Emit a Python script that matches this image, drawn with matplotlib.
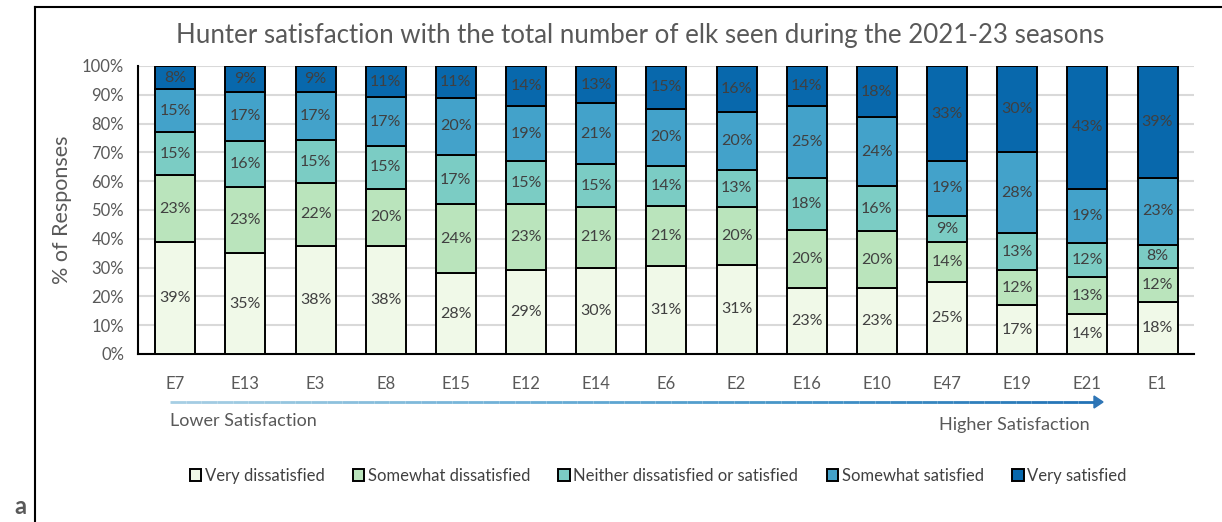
import numpy as np
import matplotlib.pyplot as plt
from matplotlib.collections import LineCollection

units = ["E7", "E13", "E3", "E8", "E15", "E12", "E14", "E6", "E2", "E16", "E10", "E47", "E19", "E21", "E1"]
categories = ["Very dissatisfied", "Somewhat dissatisfied", "Neither dissatisfied or satisfied",
              "Somewhat satisfied", "Very satisfied"]

very_dissatisfied = [39, 35, 38, 38, 28, 29, 30, 31, 31, 23, 23, 25, 17, 14, 18]
somewhat_dissatisfied = [23, 23, 22, 20, 24, 23, 21, 21, 20, 20, 20, 14, 12, 13, 12]
neither = [15, 16, 15, 15, 17, 15, 15, 14, 13, 18, 16, 9, 13, 12, 8]
somewhat_satisfied = [15, 17, 17, 17, 20, 19, 21, 20, 20, 25, 24, 19, 28, 19, 23]
very_satisfied = [8, 9, 9, 11, 11, 14, 13, 15, 16, 14, 18, 33, 30, 43, 39]

colors = ["#f0f9e8", "#bae4bc", "#7bccc4", "#43a2ca", "#0868ac"]

plt.rcParams['font.family'] = ['Lato', 'DejaVu Sans']

fig = plt.figure(figsize=(12.22, 5.22), dpi=100)
ax = fig.add_axes([138 / 1222, 1 - 354 / 522, (1194 - 138) / 1222, (354 - 66) / 522])

data = np.array([very_dissatisfied, somewhat_dissatisfied, neither, somewhat_satisfied, very_satisfied], dtype=float)
pct = data / data.sum(axis=0) * 100
x = np.arange(len(units))
bottom = np.zeros(len(units))
for i, cat in enumerate(categories):
    ax.bar(x, pct[i], 0.57, bottom=bottom, color=colors[i], edgecolor="black",
           linewidth=1.4, label=cat, zorder=3)
    for j in range(len(units)):
        ax.text(x[j], bottom[j] + pct[i][j] / 2, f"{int(data[i][j])}%", ha="center", va="center",
                fontsize=11.5, color="#404040", zorder=4)
    bottom += pct[i]

ax.set_xlim(-0.53, len(units) - 0.48)
ax.set_ylim(0, 100)
ax.set_yticks(np.arange(0, 101, 10))
ax.set_yticklabels([f"{v}%" for v in range(0, 101, 10)], fontsize=12, color="#595959")
ax.set_xticks(x)
ax.set_xticklabels(units, fontsize=12, color="#595959")
ax.tick_params(axis="y", length=0, pad=10)
ax.tick_params(axis="x", length=0, pad=16)
ax.grid(axis="y", color="#d9d9d9", linewidth=1.5, zorder=0)
for s in ["top", "right"]:
    ax.spines[s].set_visible(False)
ax.spines["left"].set_linewidth(1.5)
ax.spines["bottom"].set_linewidth(1.5)
ax.set_ylabel("% of Responses", fontsize=15.5, color="#595959", labelpad=7)

fig.text(640 / 1222, 1 - 35 / 522, "Hunter satisfaction with the total number of elk seen during the 2021-23 seasons",
         ha="center", va="center", fontsize=18.6, color="#595959")

# gradient arrow
xs = np.linspace(170, 1094, 60) / 1222
yy = 1 - 402 / 522
segs = [[(xs[k], yy), (xs[k + 1], yy)] for k in range(len(xs) - 1)]
cmap_cols = [plt.cm.Blues(0.35 + 0.4 * k / len(segs)) for k in range(len(segs))]
fig.add_artist(LineCollection(segs, colors=cmap_cols, linewidths=2, transform=fig.transFigure))
fig.add_artist(plt.Polygon([(1094 / 1222, yy + 6 / 522), (1103 / 1222, yy), (1094 / 1222, yy - 6 / 522)],
                           closed=True, color="#2e75b6", transform=fig.transFigure))
fig.text(170 / 1222, 1 - 421 / 522, "Lower Satisfaction", ha="left", va="center", fontsize=13, color="#595959")
fig.text(1090 / 1222, 1 - 425 / 522, "Higher Satisfaction", ha="right", va="center", fontsize=13, color="#595959")

fig.legend(loc="center", bbox_to_anchor=(658 / 1222, 1 - 476 / 522), ncol=5, frameon=False,
           fontsize=12, handlelength=0.7, handleheight=0.7, handletextpad=0.2, columnspacing=1.7,
           labelcolor="#404040")

# outer frame
fig.add_artist(plt.Line2D([35 / 1222, 35 / 1222], [0, 1 - 7 / 522], color="black", linewidth=1.5))
fig.add_artist(plt.Line2D([35 / 1222, 1], [1 - 7 / 522, 1 - 7 / 522], color="black", linewidth=1.5))
fig.text(20 / 1222, 4 / 522, "a", ha="center", va="bottom", fontsize=17, color="#595959", fontweight="bold")

fig.savefig("out.png", dpi=100)
